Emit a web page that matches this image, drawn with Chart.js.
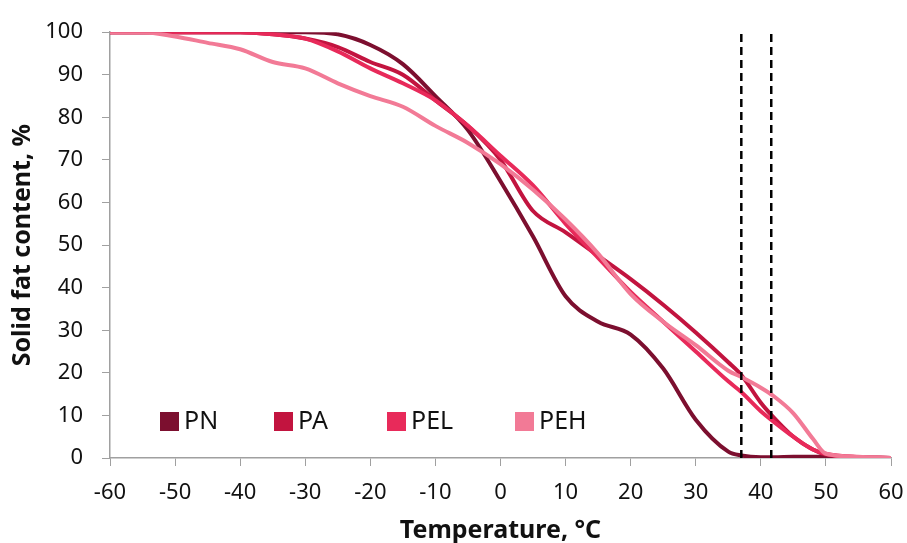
<!DOCTYPE html>
<html>
<head>
<meta charset="utf-8">
<script src="https://cdn.jsdelivr.net/npm/chart.js@4"></script>
<style>
  html, body { margin: 0; padding: 0; background: #fff; }
  #wrap { width: 907px; height: 543px; }
</style>
</head>
<body>
<div id="wrap"><canvas id="sfcChart" width="907" height="543"></canvas></div>
<script>
// temperature points, °C
const temps = [-60, -55, -50, -45, -40, -35, -30, -25, -20, -15, -10, -5, 0, 5, 10, 15, 20, 25, 30, 35, 37, 40, 42, 45, 48, 50, 55, 60];

// solid fat content, %
const pn  = [100, 100, 100, 100, 100, 100, 100, 99.5, 97, 92.5, 85, 77, 65, 52, 38, 32, 29, 21, 9, 1.5, 0.6, 0.2, 0.2, 0.3, 0.3, 0.3, 0.2, 0];
const pa  = [100, 100, 100, 100, 100, 99.5, 98.5, 96.5, 93, 90, 84, 78, 70, 58, 53, 47.5, 42, 36, 29.5, 22.5, 19.5, 13, 9.5, 5, 2, 0.8, 0.2, 0];
const pel = [100, 100, 100, 100, 100, 99.5, 98.5, 95.5, 91.5, 88, 84, 78, 71, 64, 55, 47, 39, 32, 25, 18, 15.5, 11, 8.5, 5, 2, 1, 0.2, 0];
const peh = [100, 100, 99, 97.5, 96, 93, 91.5, 88, 85, 82.5, 78, 74, 69, 63, 56, 48, 38.5, 32, 26.5, 20.5, 19, 16.5, 14.5, 10.5, 4.5, 1, 0.3, 0];

const seriesNames = ['PN', 'PA', 'PEL', 'PEH'];
const seriesColors = ['#7c0f2f', '#c2143f', '#e82a5a', '#f27a96'];

// reference temperatures shown as dashed lines
const markTemps = [37, 41.6];

const xTicks = [-60, -50, -40, -30, -20, -10, 0, 10, 20, 30, 40, 50, 60];

const fontFam = '"Noto Sans", "Open Sans", sans-serif';

const toPoints = vals => temps.map((t, i) => ({ x: t, y: vals[i] }));

const curveSets = [pn, pa, pel, peh].map((vals, i) => ({
  label: seriesNames[i],
  data: toPoints(vals),
  borderColor: seriesColors[i],
  backgroundColor: seriesColors[i],
  borderWidth: 4,
  pointRadius: 0,
  cubicInterpolationMode: 'monotone',
  fill: false
}));

const dashSets = markTemps.map(t => ({
  label: 'mark' + t,
  data: [{ x: t, y: 0 }, { x: t, y: 100 }],
  borderColor: '#000',
  borderWidth: 2.5,
  borderDash: [8, 5],
  pointRadius: 0,
  fill: false
}));

// legend drawn inside the plot area, bottom left
const innerLegend = {
  id: 'innerLegend',
  afterDatasetsDraw(chart) {
    const ctx = chart.ctx;
    const area = chart.chartArea;
    const y = area.bottom - 37;
    let x = area.left + 50;
    ctx.save();
    ctx.font = '25px ' + fontFam;
    ctx.textBaseline = 'middle';
    seriesNames.forEach((name, i) => {
      ctx.fillStyle = seriesColors[i];
      ctx.fillRect(x, y - 9, 19, 19);
      ctx.fillStyle = '#111';
      ctx.fillText(name, x + 24, y + 1);
      x += [114, 113, 128][i] || 0;
    });
    ctx.restore();
  }
};

const ctx = document.getElementById('sfcChart').getContext('2d');
new Chart(ctx, {
  type: 'line',
  data: { datasets: [...dashSets, ...curveSets.slice().reverse()] },
  options: {
    responsive: false,
    animation: false,
    layout: { autoPadding: false, padding: { left: 4, right: 16, top: 32, bottom: 0 } },
    plugins: { legend: { display: false }, tooltip: { enabled: false } },
    scales: {
      x: {
        type: 'linear',
        min: -60,
        max: 60,
        afterBuildTicks: axis => { axis.ticks = xTicks.map(v => ({ value: v })); },
        afterFit: axis => { axis.height = 85; axis.paddingLeft = 0; axis.paddingRight = 0; },
        grid: { display: true, drawOnChartArea: false, drawTicks: true, tickLength: 8, color: '#a0a0a0' },
        border: { color: '#a0a0a0', width: 1.5 },
        ticks: { color: '#111', font: { family: fontFam, size: 22 }, padding: 14, maxRotation: 0 },
        title: { display: true, text: 'Temperature, °C', color: '#111', font: { family: fontFam, size: 25, weight: 'bold', lineHeight: 1.0 }, padding: { top: 0, bottom: 0 } }
      },
      y: {
        min: 0,
        max: 100,
        afterFit: axis => { axis.width = 106; },
        ticks: { stepSize: 10, color: '#111', font: { family: fontFam, size: 22 }, padding: 19 },
        grid: { display: true, drawOnChartArea: false, drawTicks: true, tickLength: 8, color: '#a0a0a0' },
        border: { color: '#a0a0a0', width: 1.5 },
        title: { display: true, text: 'Solid fat content, %', color: '#111', font: { family: fontFam, size: 25, weight: 'bold', lineHeight: 1.0 }, padding: { top: 6, bottom: 0 } }
      }
    }
  },
  plugins: [innerLegend]
});
</script>
</body>
</html>
